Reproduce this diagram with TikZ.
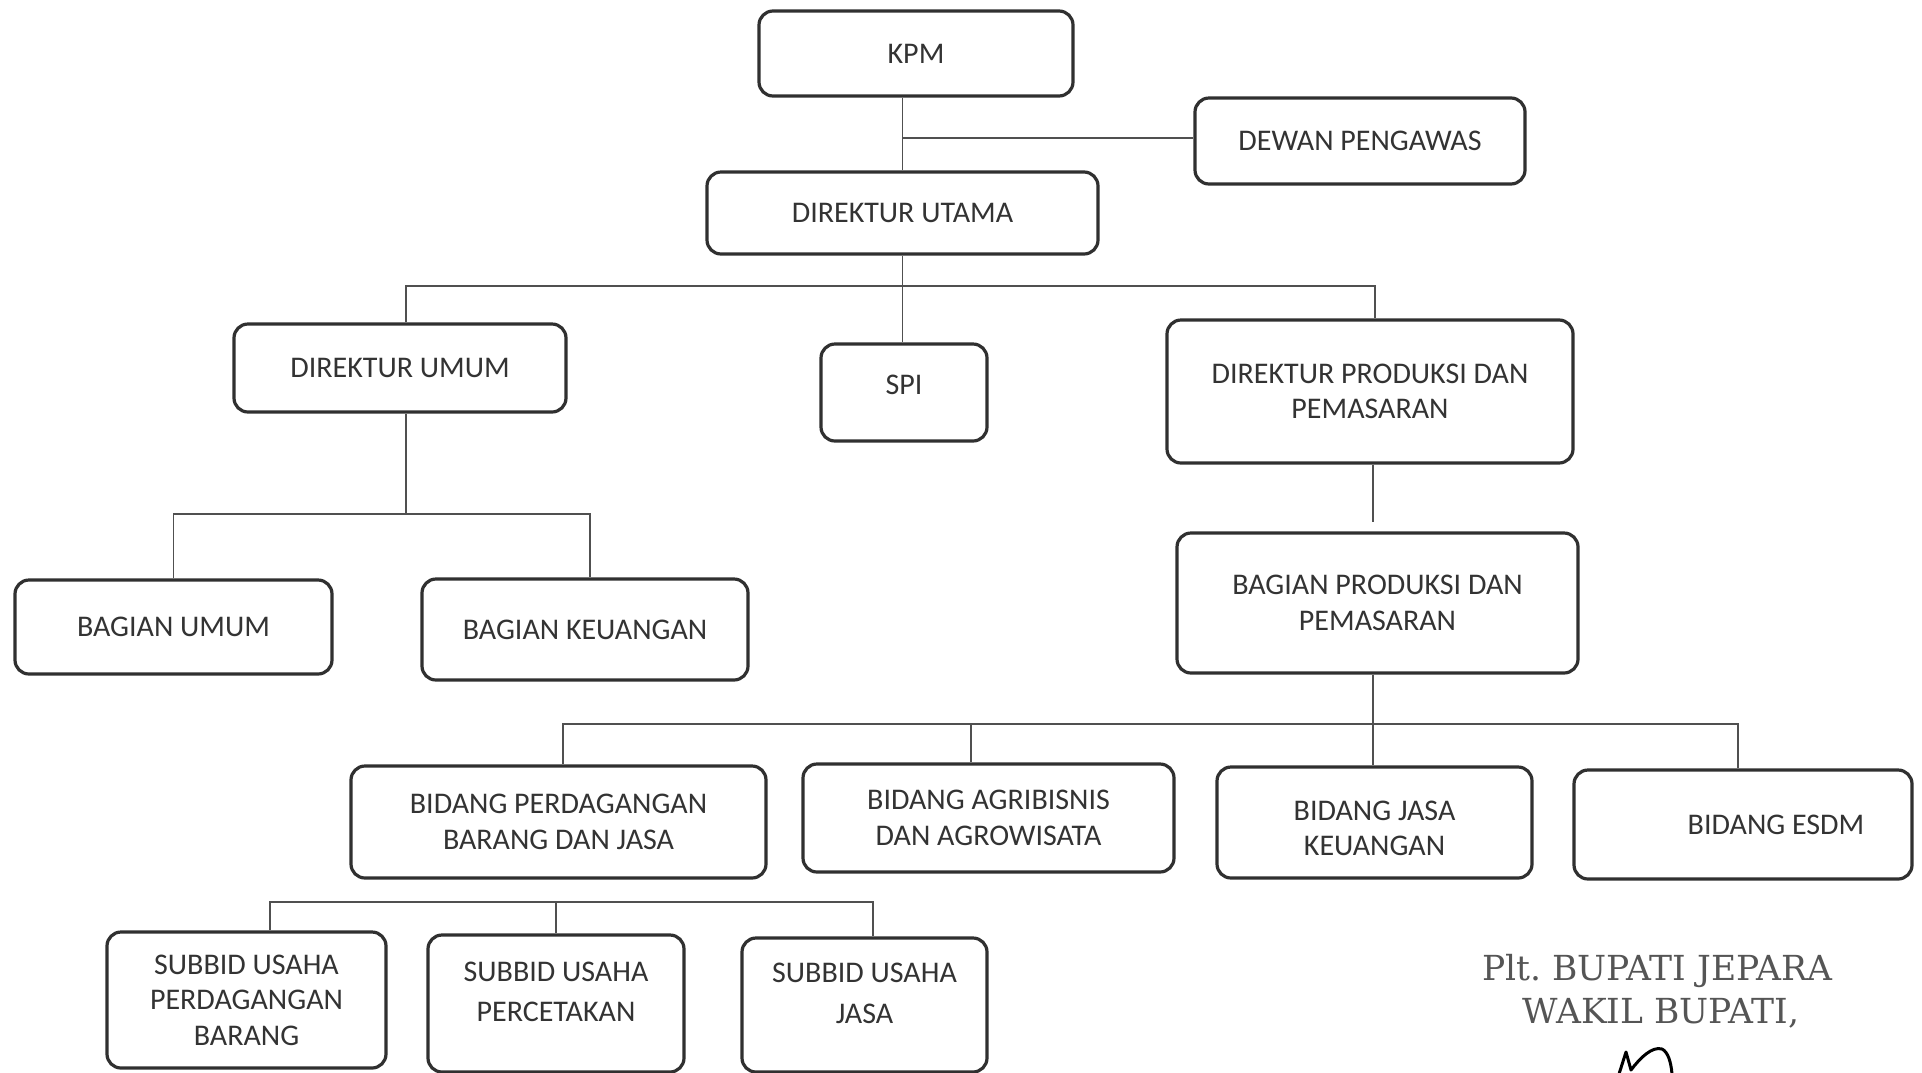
\documentclass[tikz,border=0pt]{standalone}
\usepackage{fontspec}
\setmainfont{Carlito}
\newfontfamily\sigfont{DejaVu Serif}
\definecolor{boxc}{HTML}{303030}
\definecolor{linec}{HTML}{505050}
\definecolor{txtc}{HTML}{333333}
\definecolor{sigc}{HTML}{555555}
\begin{document}
\begin{tikzpicture}[x=1pt,y=-1pt,
  box/.style={draw=boxc, line width=3.2pt, rounded corners=14pt, text=txtc,
    font=\fontsize{30}{35.5}\selectfont, align=center, inner sep=0pt},
  conn/.style={draw=linec, line width=1.4pt},
  sigtext/.style={text=sigc, font=\sigfont\fontsize{34.5}{42}\selectfont, align=center, inner sep=0pt}]
\clip (0,0) rectangle (1922,1072);
\fill[white] (0,0) rectangle (1922,1072);

% boxes
\node[box, minimum width=314pt, minimum height=85pt] (kpm) at (916,53.5) {KPM};
\node[box, minimum width=330pt, minimum height=86pt] (dewan) at (1360,141) {DEWAN PENGAWAS};
\node[box, minimum width=391pt, minimum height=82pt] (du) at (902.5,213) {DIREKTUR UTAMA};
\node[box, minimum width=332pt, minimum height=88pt] (dirumum) at (400,368) {DIREKTUR UMUM};
\node[box, minimum width=166pt, minimum height=97pt] (spi) at (904,392.5) {SPI\\[-21pt]\mbox{}};
\node[box, minimum width=406pt, minimum height=143pt] (dp) at (1370,391.5) {DIREKTUR PRODUKSI DAN\\PEMASARAN};
\node[box, minimum width=317pt, minimum height=94pt] (bu) at (173.5,627) {BAGIAN UMUM};
\node[box, minimum width=326pt, minimum height=101pt] (bk) at (585,629.5) {BAGIAN KEUANGAN};
\node[box, minimum width=401pt, minimum height=140pt] (bp) at (1377.5,603) {BAGIAN PRODUKSI DAN\\PEMASARAN};
\node[box, minimum width=415pt, minimum height=112pt] (bpbj) at (558.5,822) {BIDANG PERDAGANGAN\\BARANG DAN JASA};
\node[box, minimum width=371pt, minimum height=108pt] (baa) at (988.5,818) {BIDANG AGRIBISNIS\\DAN AGROWISATA};
\node[box, minimum width=315pt, minimum height=111pt] (bjk) at (1374.5,822.5) {\\[-4pt]BIDANG JASA\\KEUANGAN};
\node[box, minimum width=338pt, minimum height=109pt] (esdm) at (1743,824.5) {\hspace*{66pt}BIDANG ESDM};
\node[box, minimum width=279pt, minimum height=136pt] (s1) at (246.5,1000) {SUBBID USAHA\\PERDAGANGAN\\BARANG};
\node[box, minimum width=256pt, minimum height=137pt] (s2) at (556,1003.5) {SUBBID USAHA\\[5pt]PERCETAKAN\\[-12pt]\mbox{}};
\node[box, minimum width=245pt, minimum height=134pt] (s3) at (864.5,1005) {SUBBID USAHA\\[5pt]JASA\\[-12pt]\mbox{}};

% signature text
\node[sigtext] (sig1) at (1657,971) {Plt.\ BUPATI JEPARA};
\node[sigtext] (sig2) at (1661,1013) {WAKIL BUPATI,};

% connector helper coordinates
\coordinate (j1) at (902.5,138);
\coordinate (b1) at (0,286);
\coordinate (b2) at (0,514);
\coordinate (b3) at (0,724);
\coordinate (b4) at (0,902);
\coordinate (xdu) at (406,0);
\coordinate (xdp) at (1375,0);
\coordinate (xbk) at (590,0);
\coordinate (xmid) at (1373,0);
\coordinate (xb1) at (563,0);
\coordinate (xa) at (971,0);
\coordinate (xb4) at (1738,0);
\coordinate (xs1) at (270,0);
\coordinate (xs3) at (873,0);

% connectors
\draw[conn] (kpm.south -| du.north) -- (du.north);
\draw[conn] (j1) -- (j1 -| dewan.west);
\draw[conn] (du.south) -- (du.south |- spi.north);
\draw[conn] (dirumum.north -| xdu) -- (xdu |- b1) -- (xdp |- b1) -- (dp.north -| xdp);
\draw[conn] (dirumum.south -| xdu) -- (xdu |- b2);
\draw[conn] (bu.north) -- (bu.north |- b2) -- (xbk |- b2) -- (bk.north -| xbk);
\draw[conn] (dp.south -| xmid) -- ([yshift=9pt]xmid |- bp.north);
\draw[conn] (bp.south -| xmid) -- (xmid |- bjk.north);
\draw[conn] (bpbj.north -| xb1) -- (xb1 |- b3) -- (xb4 |- b3) -- (esdm.north -| xb4);
\draw[conn] (xa |- b3) -- (xa |- baa.north);
\draw[conn] (s1.north -| xs1) -- (xs1 |- b4) -- (xs3 |- b4) -- (s3.north -| xs3);
\draw[conn] (s2.north) -- (s2.north |- b4);

% signature stroke
\draw[black, line width=3pt, line cap=round, line join=round]
  (1619,1074) -- (1626,1052) -- (1631,1070)
  .. controls (1640,1058) and (1652,1046) .. (1662,1049)
  .. controls (1668,1052) and (1671,1062) .. (1672,1074);
\end{tikzpicture}
\end{document}
